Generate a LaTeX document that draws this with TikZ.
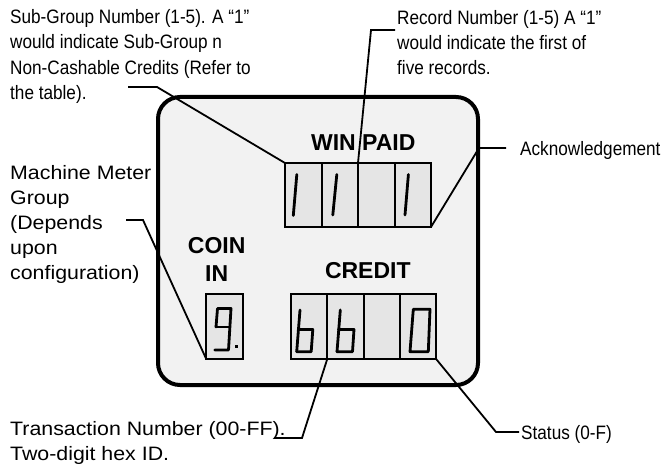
\documentclass[tikz,border=0pt]{standalone}
\usepackage{fontspec}
\setmainfont{Liberation Sans}
\newfontfamily\narrowfont[FakeStretch=0.885]{Liberation Sans}
\newfontfamily\widefont[FakeStretch=1.1]{Liberation Sans}
\definecolor{panelgray}{HTML}{F2F2F2}
\definecolor{cellgray}{HTML}{E5E5E5}
\begin{document}
\begin{tikzpicture}[x=1pt,y=-1pt,
  lbl/.style={font=\narrowfont\fontsize{19.4}{25.3}\selectfont, align=left, inner sep=0, anchor=base west},
  wlbl/.style={lbl, font=\widefont\fontsize{19.4}{25}\selectfont},
  hdr/.style={font=\fontsize{23}{28}\selectfont\bfseries, inner sep=0, anchor=base, align=center},
  panel/.style={draw, line width=4pt, rounded corners=22pt, fill=panelgray, inner sep=0, outer sep=0},
  cell/.style={draw, line width=2pt, fill=cellgray, inner sep=0, outer sep=0},
  wcell/.style={cell, minimum width=36.5pt, minimum height=64pt},
  ccell/.style={cell, minimum width=36.1pt, minimum height=64.5pt},
  seg/.style={line width=2.8pt, line cap=round, line join=round},
  leader/.style={line width=1.8pt}]
\useasboundingbox (0,0) rectangle (671,468);

% panel
\node[panel, minimum width=320pt, minimum height=288pt] (panel) at (318,241) {};

% WIN PAID display
\node[wcell] (w1) at (303.25,195) {};
\node[wcell] (w2) at (339.75,195) {};
\node[wcell] (w3) at (376.25,195) {};
\node[wcell] (w4) at (412.75,195) {};

% COIN IN display
\node[ccell, minimum width=36.7pt] (coin) at (224.35,326.25) {};

% CREDIT display
\node[ccell] (c1) at (309.35,326.25) {};
\node[ccell] (c2) at (345.45,326.25) {};
\node[ccell] (c3) at (381.55,326.25) {};
\node[ccell] (c4) at (417.65,326.25) {};

% digits
\draw[seg] (296.8,174.5) -- (293.3,215.5);
\draw[seg] (336.8,174.5) -- (332.8,215);
\draw[seg] (408.4,174.5) -- (405,215);
\draw[seg] (216,327) -- (217.5,308.5) -- (231,308.5) -- (228.5,350) -- (214.8,350);
\draw[seg] (216,327) -- (229.8,327);
\fill (235.4,344.7) rectangle (238.2,347.5);
\draw[seg] (300,310) -- (296.7,351.7);
\draw[seg] (298.3,329.5) -- (312.8,329.5) -- (311.2,351.7) -- (296.7,351.7);
\draw[seg] (340.3,310) -- (337,351.7);
\draw[seg] (338.6,329.5) -- (354,329.5) -- (352.5,351.7) -- (337,351.7);
\draw[seg] (413.3,309.3) -- (430,309.3) -- (428.3,351.7) -- (410,351.7) -- cycle;

% headers
\node[hdr] (winpaid) at (363.3,150) {WIN PAID};
\node[hdr] (coinin) at (216.7,281) {COIN\\IN};
\node[hdr] (credit) at (367.8,278.3) {CREDIT};

% labels (anchor = baseline of the last line)
\node[lbl] (subgroup) at (10,99.5) {Sub-Group Number (1-5). A “1”\\would indicate Sub-Group n\\Non-Cashable Credits (Refer to\\the table).};
\node[lbl] (record) at (397,75) {Record Number (1-5) A “1”\\would indicate the first of\\five records.};
\node[lbl] (ack) at (520,155) {Acknowledgement};
\node[wlbl] (machine) at (10,279) {Machine Meter\\Group\\(Depends\\upon\\configuration)};
\node[wlbl] (trans) at (10,460.5) {Transaction Number (00-FF).\\Two-digit hex ID.};
\node[lbl] (status) at (521,439) {Status (0-F)};

% leaders
\coordinate (sgA) at (128,87);
\coordinate (sgB) at (157,87);
\coordinate (rnA) at (395,30);
\coordinate (rnB) at (371,30);
\coordinate (akA) at (506,148);
\coordinate (akB) at (479,148);
\coordinate (mmA) at (126,220);
\coordinate (mmB) at (143,220);
\coordinate (tnA) at (274,438);
\coordinate (tnB) at (302,438);
\coordinate (stA) at (519,432);
\coordinate (stB) at (496,432);
\draw[leader] (sgA) -- (sgB) -- (w1.north west);
\draw[leader] (rnA) -- (rnB) -- (w2.north east);
\draw[leader] (akA) -- (akB) -- (w4.south east);
\draw[leader] (mmA) -- (mmB) -- (coin.south west);
\draw[leader] (tnA) -- (tnB) -- (c1.south east);
\draw[leader] (stA) -- (stB) -- (c4.south east);
\end{tikzpicture}
\end{document}
